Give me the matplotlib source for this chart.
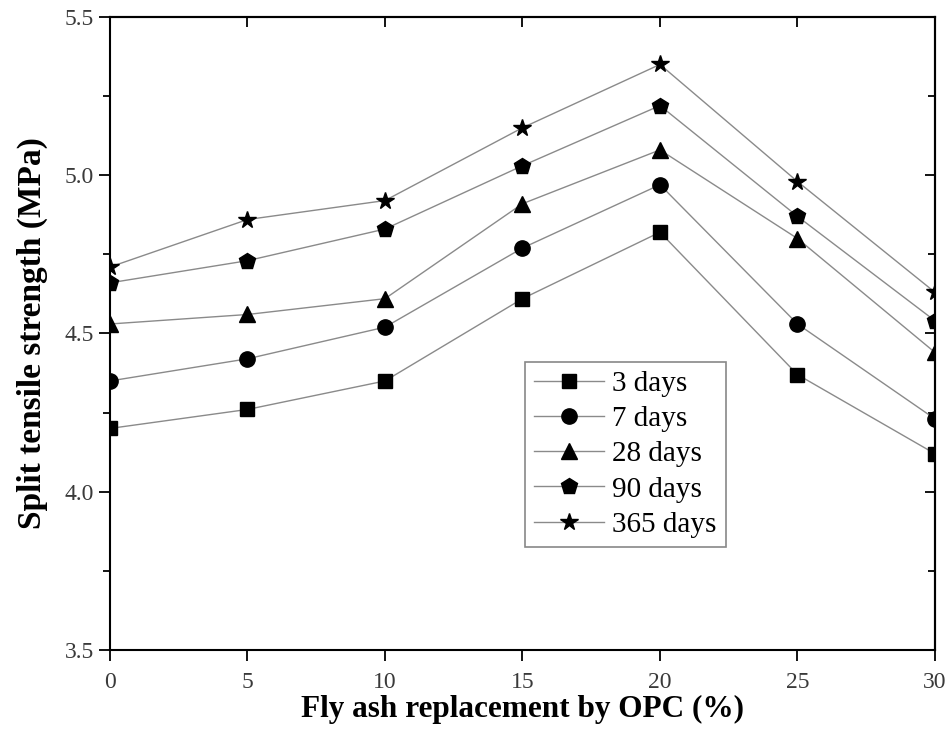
import matplotlib
matplotlib.use("Agg")
import matplotlib.pyplot as plt
from matplotlib.ticker import MultipleLocator

replacement = [0, 5, 10, 15, 20, 25, 30]
series_labels = ["3 days", "7 days", "28 days", "90 days", "365 days"]
days3 = [4.20, 4.26, 4.35, 4.61, 4.82, 4.37, 4.12]
days7 = [4.35, 4.42, 4.52, 4.77, 4.97, 4.53, 4.23]
days28 = [4.53, 4.56, 4.61, 4.91, 5.08, 4.80, 4.44]
days90 = [4.66, 4.73, 4.83, 5.03, 5.22, 4.87, 4.54]
days365 = [4.71, 4.86, 4.92, 5.15, 5.35, 4.98, 4.63]
markers = ["s", "o", "^", "p", "*"]
x_ticks = [0, 5, 10, 15, 20, 25, 30]
y_ticks = [3.5, 4.0, 4.5, 5.0, 5.5]

plt.rcParams['font.family'] = ['Liberation Serif', 'DejaVu Serif']

fig = plt.figure(figsize=(9.53, 7.51), dpi=100)
ax = fig.add_axes([0.1154, 0.1345, 0.8657, 0.8429])

msizes = [10, 11, 11, 12, 13]
for vals, lab, mk, ms in zip([days3, days7, days28, days90, days365], series_labels, markers, msizes):
    ax.plot(replacement, vals, color='#8a8a8a', lw=1.0, marker=mk, markersize=ms,
            markerfacecolor='black', markeredgecolor='black', label=lab)

ax.set_xlim(0, 30)
ax.set_ylim(3.5, 5.5)
ax.set_xticks(x_ticks)
ax.set_yticks(y_ticks)
ax.set_yticklabels([f"{v:.1f}" for v in y_ticks])
ax.yaxis.set_minor_locator(MultipleLocator(0.25))
ax.tick_params(axis='both', which='major', direction='out', length=8, width=1.3,
               labelsize=17, labelcolor='#3a3a3a', top=False, right=False)
ax.tick_params(axis='x', which='major', pad=8)
ax.tick_params(axis='y', which='minor', direction='out', length=5, width=1.3, right=False)
for s in ax.spines.values():
    s.set_linewidth(1.5)

secx = ax.secondary_xaxis('top')
secx.set_xticks(x_ticks)
secx.tick_params(direction='in', length=7, width=1.3, labeltop=False)
secx.spines['top'].set_linewidth(1.5)
secy = ax.secondary_yaxis('right')
secy.set_yticks(y_ticks)
secy.yaxis.set_minor_locator(MultipleLocator(0.25))
secy.tick_params(which='major', direction='in', length=7, width=1.3, labelright=False)
secy.tick_params(which='minor', direction='in', length=5, width=1.3, labelright=False)
secy.spines['right'].set_linewidth(1.5)

ax.set_xlabel("Fly ash replacement by OPC (%)", fontsize=22.5, fontweight='bold', labelpad=1)
ax.set_ylabel("Split tensile strength (MPa)", fontsize=24, fontweight='bold', labelpad=12)

leg = ax.legend(loc='upper left', bbox_to_anchor=(0.503, 0.455), fontsize=21,
                frameon=True, fancybox=False, edgecolor='#888888', framealpha=1,
                handlelength=2.4, labelspacing=0.3, borderpad=0.3, handletextpad=0.3,
                borderaxespad=0)
leg.get_frame().set_linewidth(1.2)

fig.savefig("out.png", dpi=100)
